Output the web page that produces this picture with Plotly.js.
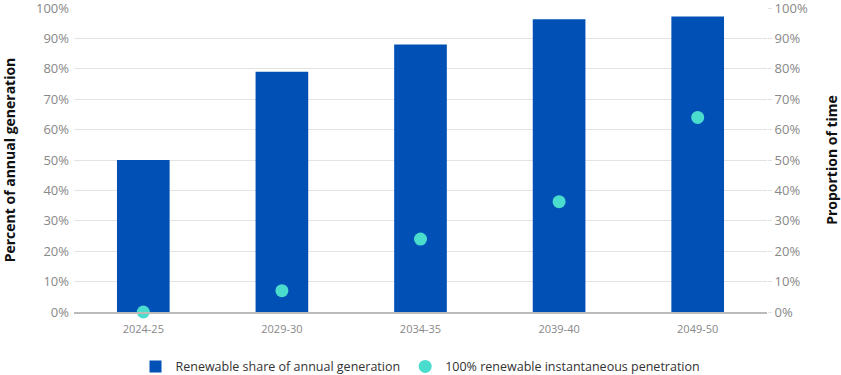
<!DOCTYPE html>
<html><head><meta charset="utf-8">
<script src="https://cdn.plot.ly/plotly-3.0.1.min.js"></script>
<style>body{margin:0;background:#fff}#c{width:841px;height:375px}</style>
</head><body><div id="c"></div>
<script>
const categories = ["2024-25", "2029-30", "2034-35", "2039-40", "2049-50"];
const renewableShare = [50, 79, 88, 96.3, 97.2];
const instantaneous100 = [0, 7, 24, 36.3, 64];
const yTickVals = [0,10,20,30,40,50,60,70,80,90,100];
const yTickText = yTickVals.map(v => v + "%");

const font = "Open Sans, Noto Sans, sans-serif";
const traces = [
  {type: "bar", x: categories, y: renewableShare, name: "Renewable share of annual generation",
   marker: {color: "#0050B5"}, yaxis: "y", hoverinfo: "none"},
  {type: "scatter", mode: "markers", x: categories, y: instantaneous100, name: "100% renewable instantaneous penetration",
   marker: {color: "#4ADDCD", size: 13}, yaxis: "y2", cliponaxis: false, hoverinfo: "none"}
];
const layout = {
  width: 841, height: 375,
  margin: {l: 74, r: 74, t: 8, b: 63, autoexpand: false},
  paper_bgcolor: "#fff", plot_bgcolor: "#fff",
  font: {family: font, color: "#888", size: 13},
  bargap: 0.62,
  showlegend: true,
  legend: {orientation: "h", x: 0.5, xanchor: "center", xref: "container", yref: "container", y: 0.022, yanchor: "middle",
    font: {family: font, size: 12.5, color: "#333"}, tracegroupgap: 0, itemwidth: 30},
  xaxis: {type: "category", showgrid: false, zeroline: false, showline: true, linecolor: "#bbb", linewidth: 1.5,
    tickfont: {size: 11, color: "#888"}, ticks: "", ticklabelstandoff: 6, automargin: false},
  yaxis: {range: [0, 100], tickvals: yTickVals, ticktext: yTickText, showgrid: true, gridcolor: "#e3e3e3",
    zeroline: false, showline: false, tickfont: {size: 13, color: "#888"}, ticklabelstandoff: 4,
    ticklabeloverflow: "allow", automargin: false,
    title: {text: "Percent of annual generation", font: {family: font, size: 14, color: "#111", weight: "bold"}, standoff: 27}},
  yaxis2: {range: [0, 100], overlaying: "y", side: "right", tickvals: yTickVals, ticktext: yTickText,
    showgrid: false, zeroline: false, showline: false, ticks: "outside", ticklen: 4, tickcolor: "#e3e3e3",
    tickfont: {size: 13, color: "#888"}, ticklabelstandoff: 0, ticklabeloverflow: "allow", automargin: false,
    title: {text: "Proportion of time", font: {family: font, size: 14, color: "#111", weight: "bold"}, standoff: 28}}
};
Plotly.newPlot("c", traces, layout, {displayModeBar: false, staticPlot: true});
</script></body></html>
